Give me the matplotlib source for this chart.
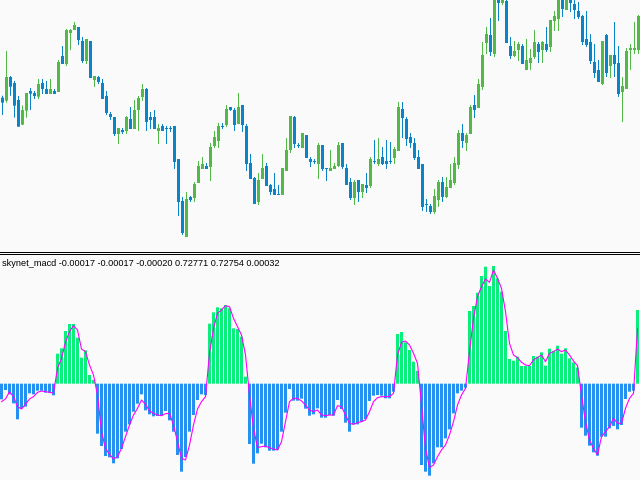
#!/usr/bin/env python3
"""Candlestick chart with skynet_macd histogram below (MT4 style)."""

import matplotlib

matplotlib.use("Agg")
import matplotlib.pyplot as plt
from matplotlib.lines import Line2D
import numpy as np

# prices in points (1e-5) above 0.72000
OPEN = [457, 448, 519, 501, 450, 376, 418, 477, 471, 460, 501, 483, 468, 477, 474, 582, 558, 651, 660, 669,
        627, 567, 627, 510, 519, 501, 462, 408, 399, 348, 360, 357, 393, 363, 420, 459, 483, 399, 399, 357,
        372, 366, 366, 372, 273, 147, 39, 159, 156, 201, 243, 252, 249, 312, 327, 372, 375, 429, 420, 378,
        435, 372, 261, 216, 144, 213, 252, 195, 183, 168, 165, 237, 300, 399, 315, 306, 345, 273, 267, 258,
        315, 246, 237, 243, 252, 321, 246, 204, 156, 210, 174, 195, 192, 267, 258, 279, 267, 267, 276, 297,
        423, 393, 339, 321, 279, 258, 138, 132, 114, 150, 204, 159, 186, 201, 255, 351, 321, 348, 435, 426,
        489, 621, 645, 588, 770, 741, 747, 612, 582, 600, 612, 540, 561, 579, 618, 600, 618, 609, 687, 693,
        760, 720, 755, 738, 717, 702, 633, 624, 564, 540, 498, 645, 552, 585, 561, 474, 483, 600, 600, 600]
HIGH = [463, 597, 522, 507, 462, 434, 471, 486, 477, 513, 513, 507, 513, 483, 570, 612, 663, 663, 684, 669,
        639, 633, 627, 522, 522, 513, 477, 414, 399, 366, 366, 402, 429, 450, 462, 498, 486, 414, 420, 378,
        378, 372, 372, 372, 273, 159, 174, 162, 204, 267, 279, 261, 321, 357, 381, 381, 435, 429, 426, 471,
        435, 378, 288, 219, 231, 288, 261, 198, 231, 195, 246, 336, 402, 402, 321, 351, 345, 279, 273, 321,
        315, 246, 300, 261, 324, 321, 258, 216, 210, 210, 198, 231, 279, 330, 336, 309, 330, 324, 309, 444,
        444, 399, 351, 336, 300, 258, 153, 138, 183, 210, 219, 219, 258, 279, 360, 378, 351, 435, 465, 513,
        624, 669, 696, 770, 780, 765, 755, 639, 627, 624, 618, 633, 603, 660, 624, 627, 669, 690, 717, 765,
        770, 770, 765, 755, 744, 705, 717, 648, 618, 570, 627, 648, 585, 684, 612, 519, 606, 618, 684, 705]
LOW = [405, 442, 463, 397, 370, 375, 397, 420, 453, 453, 468, 468, 468, 468, 474, 558, 552, 600, 660, 615,
       561, 558, 516, 489, 498, 453, 405, 390, 342, 318, 348, 348, 363, 363, 357, 447, 357, 363, 363, 318,
       357, 318, 354, 243, 102, 45, 39, 144, 144, 201, 243, 243, 207, 306, 306, 363, 369, 417, 357, 378,
       354, 237, 213, 138, 135, 213, 192, 165, 165, 165, 165, 237, 291, 306, 306, 306, 276, 249, 258, 213,
       237, 207, 237, 243, 249, 243, 195, 150, 135, 144, 156, 171, 186, 258, 252, 255, 243, 258, 258, 297,
       336, 312, 306, 270, 243, 117, 114, 108, 108, 129, 144, 156, 186, 195, 243, 306, 297, 348, 396, 426,
       480, 588, 582, 579, 687, 735, 621, 573, 579, 567, 558, 540, 540, 573, 561, 561, 594, 594, 657, 657,
       699, 720, 714, 693, 693, 615, 609, 558, 516, 504, 495, 519, 516, 519, 459, 384, 483, 540, 588, 588]
CLOSE = [442, 519, 490, 433, 370, 420, 471, 469, 462, 498, 483, 468, 483, 468, 564, 558, 660, 660, 675, 630,
         567, 633, 516, 522, 504, 453, 411, 399, 348, 366, 354, 399, 363, 420, 456, 483, 384, 390, 363, 366,
         357, 363, 363, 264, 144, 51, 153, 150, 198, 252, 258, 243, 309, 339, 372, 369, 423, 420, 375, 429,
         375, 258, 213, 138, 210, 246, 192, 174, 165, 165, 246, 300, 402, 318, 312, 351, 276, 264, 264, 315,
         243, 243, 246, 252, 315, 249, 195, 156, 204, 174, 198, 186, 273, 264, 273, 258, 258, 264, 303, 429,
         396, 333, 321, 276, 243, 129, 135, 114, 162, 204, 159, 189, 210, 261, 351, 327, 345, 429, 420, 498,
         585, 648, 594, 760, 741, 755, 621, 582, 597, 618, 558, 570, 576, 624, 594, 624, 600, 690, 702, 755,
         723, 760, 741, 720, 699, 624, 615, 567, 531, 504, 627, 531, 585, 558, 468, 492, 597, 606, 606, 702]

# skynet_macd histogram and signal, in units of 1e-6
HIST = [-47, -19, -32, -59, -107, -74, -69, -29, -32, -21, -21, -27, -27, -35, 90, 106, 158, 179, 179, 138,
        78, 100, 26, 11, -150, -187, -217, -221, -239, -224, -196, -144, -122, -84, -60, -32, -80, -92, -98, -97,
        -96, -82, -110, -144, -214, -264, -220, -144, -94, -49, -32, -34, 180, 214, 229, 226, 236, 226, 166, 164,
        141, 21, -181, -240, -209, -180, -191, -201, -201, -198, -144, -87, -16, -51, -51, -45, -75, -96, -92, -74,
        -102, -102, -94, -96, -49, -76, -117, -144, -122, -122, -114, -106, -52, -36, -34, -36, -44, -44, -24, 149,
        155, 124, 101, 66, 38, -244, -264, -276, -239, -191, -191, -164, -137, -89, -29, -21, -12, 218, 233, 273,
        323, 351, 293, 353, 316, 276, 158, 74, 69, 81, 53, 53, 53, 83, 81, 94, 54, 105, 98, 114,
        90, 106, 76, 64, 48, -132, -156, -186, -206, -216, -159, -159, -134, -127, -137, -124, -46, -24, -21, 221]
SIGNAL = [-54, -46, -24, -39, -69, -76, -62, -46, -39, -26, -22, -24, -26, -28, 46, 76, 124, 156, 174, 161,
          104, 96, 56, 26, -34, -144, -194, -212, -226, -219, -194, -159, -124, -94, -74, -49, -62, -82, -89, -94,
          -96, -90, -89, -124, -174, -224, -229, -184, -124, -76, -54, -39, 91, 166, 211, 221, 234, 231, 196, 171,
          146, 86, -34, -134, -192, -189, -187, -192, -196, -199, -174, -114, -54, -44, -44, -52, -64, -79, -84, -79,
          -94, -96, -94, -94, -66, -69, -94, -119, -122, -117, -114, -109, -84, -54, -42, -39, -39, -39, -29, 86,
          124, 128, 116, 91, 61, -64, -194, -252, -244, -219, -199, -184, -154, -114, -64, -34, -14, 96, 196, 261,
          291, 314, 304, 341, 316, 286, 216, 121, 86, 78, 64, 56, 54, 71, 78, 86, 66, 91, 96, 104,
          96, 101, 86, 68, 54, -34, -114, -169, -194, -214, -159, -144, -129, -104, -119, -119, -74, -44, -29, 166]

TITLE = "skynet_macd -0.00017 -0.00017 -0.00020 0.72771 0.72754 0.00032"

BG = "#fafafa"
UP = "#52b848"
DOWN = "#0a84c6"
H_UP = "#0aee7c"
H_DOWN = "#2490f0"
SIG = "#ff00ff"

W, H = 640, 480
fig = plt.figure(figsize=(6.4, 4.8), dpi=100)
fig.patch.set_facecolor(BG)

# price panel: y 0..252 px
ax = fig.add_axes([0, (H - 252) / H, 1, 252 / H])
# indicator panel: y 255..480 px
ax2 = fig.add_axes([0, 0, 1, 225 / H])

x = np.arange(len(OPEN))
o, hi, lo, c = (np.array(a, dtype=float) for a in (OPEN, HIGH, LOW, CLOSE))
up = c >= o
colors = np.where(up, UP, DOWN)
body_lo = np.minimum(o, c)
body_h = np.maximum(np.abs(c - o), 3)

wicks = ax.vlines(x, lo, hi, colors=colors, lw=0.72)
wicks.set_snap(False)
for r in ax.bar(x, body_h, bottom=body_lo, width=0.75, color=colors, linewidth=0):
    r.set_snap(False)
ax.set_xlim(-0.625, len(x) - 0.625)
ax.set_ylim(-6, 750)

hist = np.array(HIST)
for r in ax2.bar(x - 0.25, hist, width=0.75, color=np.where(hist >= 0, H_UP, H_DOWN), linewidth=0):
    r.set_snap(False)
ax2.plot(x - 0.25, SIGNAL, color=SIG, lw=0.8)
ax2.set_xlim(-0.625, len(x) - 0.625)
ax2.set_ylim(-289, 386)
ax2.text(2 / W, 1 - 8 / 225, TITLE, transform=ax2.transAxes, ha="left", va="center",
         fontsize=6.6, family="Liberation Sans", color="#000000")

for a in (ax, ax2):
    a.set_facecolor(BG)
    a.set_xticks([])
    a.set_yticks([])
    for s in a.spines.values():
        s.set_visible(False)

# double separator between panels
for yy in (252.5, 254.5):
    fig.add_artist(Line2D([0, 1], [1 - yy / H, 1 - yy / H], color="#000000", lw=0.72,
                          transform=fig.transFigure))

fig.savefig("out.png", dpi=100, facecolor=BG)
